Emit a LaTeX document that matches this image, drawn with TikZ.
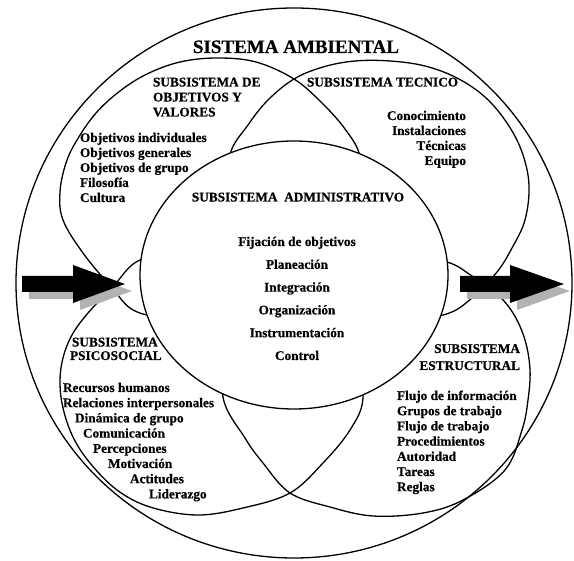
\documentclass[tikz,border=0pt]{standalone}
\usepackage{fontspec}
\setmainfont{Liberation Serif}[BoldFeatures={FakeBold=0.6}]
\begin{document}
\begin{tikzpicture}[x=1pt,y=-1pt,
  ring/.style={line width=1.3pt, line join=round},
  txt/.style={font=\fontsize{13.3}{15}\selectfont\bfseries, inner sep=0pt, outer sep=0pt},
  title/.style={font=\fontsize{19}{22}\selectfont\bfseries, inner sep=0pt},
  arrowtop/.style={fill=black},
  arrowside/.style={fill=gray!60}]
\useasboundingbox (0,0) rectangle (574,561);

% environment
\draw[ring] (294,283) ellipse [x radius=278pt, y radius=275pt];

% objectives and values
\draw[ring] plot[smooth cycle, tension=0.6] coordinates {
  (143,314) (110,285) (83,253) (63,220) (60,192) (66,163) (77,140) (96,113)
  (120,91) (147,74) (180,62) (217,58) (256,62) (294,79) (322,103) (345,129)
  (360,156) (364,200) (345,250) (300,292) (230,318)};
% technical
\draw[ring] plot[smooth cycle, tension=0.6] coordinates {
  (230,155) (248,125) (268,100) (294,79) (323,67) (355,61) (390,61) (425,66)
  (457,78) (485,97) (507,123) (522,152) (529,185) (525,220) (512,248)
  (497,272) (472,298) (443,315) (380,322) (320,300) (260,250) (232,200)};
% psychosocial
\draw[ring] plot[smooth cycle, tension=0.6] coordinates {
  (140,260) (112,288) (88,313) (72,335) (63,358) (60,382) (63,408) (73,437)
  (90,463) (117,490) (150,507) (197,515) (243,508) (290,493) (323,463)
  (350,430) (363,398) (355,350) (320,300) (260,268) (190,255)};
% structural
\draw[ring] plot[smooth cycle, tension=0.6] coordinates {
  (447,262) (472,276) (495,292) (513,313) (525,340) (530,370) (528,400)
  (522,430) (505,470) (463,500) (423,513) (373,516) (330,507) (290,493)
  (263,463) (245,438) (223,397) (228,340) (270,290) (340,262) (400,255)};

% administrative core
\draw[ring, fill=white] (294,275) ellipse [x radius=154pt, y radius=134pt];

% input arrow (shaded lower face, then black upper face)
\fill[arrowside] (29,283) -- (80,283) -- (80,272) -- (132,291) -- (80,310) -- (80,299) -- (29,299) -- cycle;
\fill[arrowtop] (22,276) -- (73,276) -- (73,265) -- (125,284) -- (73,303) -- (73,292) -- (22,292) -- cycle;
% output arrow
\fill[arrowside] (467,283) -- (517,283) -- (517,272) -- (570,291) -- (517,310) -- (517,299) -- (467,299) -- cycle;
\fill[arrowtop] (460,276) -- (510,276) -- (510,265) -- (564,284) -- (510,303) -- (510,292) -- (460,292) -- cycle;

% titles
\node[title, anchor=base] (amb) at (296,53) {SISTEMA AMBIENTAL};
\node[txt, anchor=base west] (obj-h1) at (153,86.5) {SUBSISTEMA DE};
\node[txt, anchor=base west] (obj-h2) at (153,101.5) {OBJETIVOS Y};
\node[txt, anchor=base west] (obj-h3) at (153,116.5) {VALORES};
\node[txt, anchor=base west] (tec-h) at (307,86.5) {SUBSISTEMA TECNICO};
\node[txt, anchor=base] (adm-h) at (298,201.5) {SUBSISTEMA\enspace ADMINISTRATIVO};
\node[txt, anchor=base west] (psi-h1) at (72,346.5) {SUBSISTEMA};
\node[txt, anchor=base west] (psi-h2) at (70,360) {PSICOSOCIAL};
\node[txt, anchor=base east] (est-h1) at (520,353) {SUBSISTEMA};
\node[txt, anchor=base east] (est-h2) at (520,370) {ESTRUCTURAL};

% item lists
\foreach \t [count=\i] in {Objetivos individuales, Objetivos generales,
    Objetivos de grupo, Filosofía, Cultura}
  \node[txt, anchor=base west] (obj-\i) at (80,127+15*\i) {\t};
\foreach \t [count=\i] in {Conocimiento, Instalaciones, Técnicas, Equipo}
  \node[txt, anchor=base east] (tec-\i) at (466,105+15*\i) {\t};
\foreach \t [count=\i] in {Fijación de objetivos, Planeación, Integración,
    Organización, Instrumentación, Control}
  \node[txt, anchor=base] (adm-\i) at (297,223.2+22.8*\i) {\t};
\foreach \x/\t [count=\i] in {63/Recursos humanos, 63/Relaciones interpersonales,
    75/Dinámica de grupo, 83/Comunicación, 93/Percepciones, 108/Motivación,
    130/Actitudes, 149/Liderazgo}
  \node[txt, anchor=base west] (psi-\i) at (\x,376.8+15.2*\i) {\t};
\foreach \t [count=\i] in {Flujo de información, Grupos de trabajo, Flujo de trabajo,
    Procedimientos, Autoridad, Tareas, Reglas}
  \node[txt, anchor=base west] (est-\i) at (397,384.8+15.2*\i) {\t};
\end{tikzpicture}
\end{document}
